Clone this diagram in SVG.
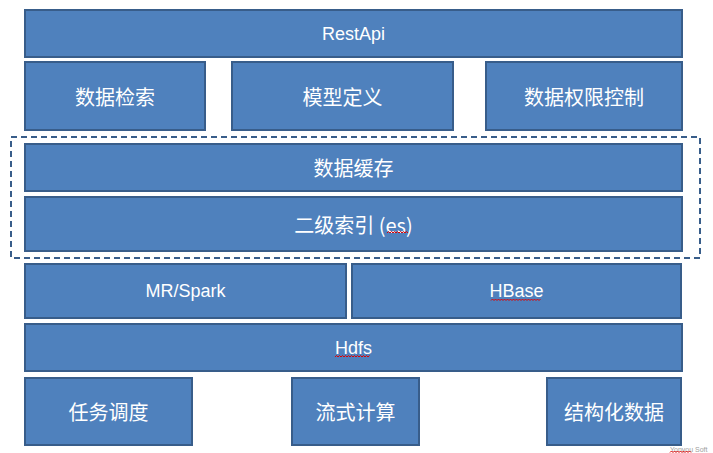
<svg xmlns="http://www.w3.org/2000/svg" width="713" height="453" viewBox="0 0 713 453">
  <style>
    .box { fill: #4F81BD; stroke: #385D8A; stroke-width: 2; }
    .lbl { fill: #FFFFFF; font-family: "Liberation Sans", "Noto Sans CJK SC", sans-serif; font-size: 18px; text-anchor: middle; dominant-baseline: central; }
    .cn { font-family: "Noto Sans CJK SC", "Liberation Sans", sans-serif; font-size: 20px; }
    .squig { fill: none; stroke: #E00000; stroke-width: 1; }
    .wm { fill: #A0A0A0; font-family: "Liberation Sans", sans-serif; font-size: 7px; }
  </style>
  <rect x="0" y="0" width="713" height="453" fill="#FFFFFF"/>
  <g id="connectors">
    <rect id="cache-group" x="11" y="137" width="689" height="121" fill="none" stroke="#385D8A" stroke-width="2" stroke-dasharray="6,4"/>
  </g>
  <g id="restapi">
    <rect class="box" x="25" y="10" width="657" height="47"/>
    <text class="lbl" x="353.5" y="33.5">RestApi</text>
  </g>
  <g id="search">
    <rect class="box" x="25" y="62" width="180" height="68"/>
    <text class="lbl cn" x="115" y="96">数据检索</text>
  </g>
  <g id="model">
    <rect class="box" x="232" y="62" width="221" height="68"/>
    <text class="lbl cn" x="342.5" y="96">模型定义</text>
  </g>
  <g id="permission">
    <rect class="box" x="486" y="62" width="196" height="68"/>
    <text class="lbl cn" x="584" y="96">数据权限控制</text>
  </g>
  <g id="cache">
    <rect class="box" x="25" y="144" width="657" height="47"/>
    <text class="lbl cn" x="353.5" y="167.5">数据缓存</text>
  </g>
  <g id="index">
    <rect class="box" x="25" y="197" width="657" height="54"/>
    <text class="lbl cn" x="353.5" y="224">二级索引 (es)</text>
    <path class="squig" d="M387 233 l1.5 -1.5 l1.5 1.5 l1.5 -1.5 l1.5 1.5 l1.5 -1.5 l1.5 1.5 l1.5 -1.5 l1.5 1.5 l1.5 -1.5 l1.5 1.5 l1.5 -1.5 l1.5 1.5 l1.5 -1.5 l1.5 1.5"/>
  </g>
  <g id="mrspark">
    <rect class="box" x="25" y="264" width="321" height="54"/>
    <text class="lbl" x="185.5" y="291">MR/Spark</text>
  </g>
  <g id="hbase">
    <rect class="box" x="352" y="264" width="329" height="54"/>
    <text class="lbl" x="516.5" y="291">HBase</text>
    <path class="squig" d="M491 300.5 l1.5 -1.5 l1.5 1.5 l1.5 -1.5 l1.5 1.5 l1.5 -1.5 l1.5 1.5 l1.5 -1.5 l1.5 1.5 l1.5 -1.5 l1.5 1.5 l1.5 -1.5 l1.5 1.5 l1.5 -1.5 l1.5 1.5 l1.5 -1.5 l1.5 1.5 l1.5 -1.5 l1.5 1.5 l1.5 -1.5 l1.5 1.5 l1.5 -1.5 l1.5 1.5 l1.5 -1.5 l1.5 1.5 l1.5 -1.5 l1.5 1.5 l1.5 -1.5 l1.5 1.5 l1.5 -1.5 l1.5 1.5 l1.5 -1.5 l1.5 1.5 l1.5 -1.5"/>
  </g>
  <g id="hdfs">
    <rect class="box" x="25" y="324" width="657" height="47"/>
    <text class="lbl" x="353.5" y="347.5">Hdfs</text>
    <path class="squig" d="M335 357 l1.5 -1.5 l1.5 1.5 l1.5 -1.5 l1.5 1.5 l1.5 -1.5 l1.5 1.5 l1.5 -1.5 l1.5 1.5 l1.5 -1.5 l1.5 1.5 l1.5 -1.5 l1.5 1.5 l1.5 -1.5 l1.5 1.5 l1.5 -1.5 l1.5 1.5 l1.5 -1.5 l1.5 1.5 l1.5 -1.5 l1.5 1.5 l1.5 -1.5 l1.5 1.5 l1.5 -1.5"/>
  </g>
  <g id="scheduler">
    <rect class="box" x="25" y="378" width="167" height="67"/>
    <text class="lbl cn" x="108.5" y="411.5">任务调度</text>
  </g>
  <g id="streaming">
    <rect class="box" x="292" y="378" width="127" height="67"/>
    <text class="lbl cn" x="355.5" y="411.5">流式计算</text>
  </g>
  <g id="structured">
    <rect class="box" x="547" y="378" width="134" height="67"/>
    <text class="lbl cn" x="614" y="411.5">结构化数据</text>
  </g>
  <g id="watermark">
    <text class="wm" x="670" y="451.5">Yonyou Soft</text>
    <path class="squig" d="M670 452.5 l1.5 -1.5 l1.5 1.5 l1.5 -1.5 l1.5 1.5 l1.5 -1.5 l1.5 1.5 l1.5 -1.5 l1.5 1.5 l1.5 -1.5 l1.5 1.5 l1.5 -1.5 l1.5 1.5 l1.5 -1.5 l1.5 1.5"/>
  </g>
</svg>
